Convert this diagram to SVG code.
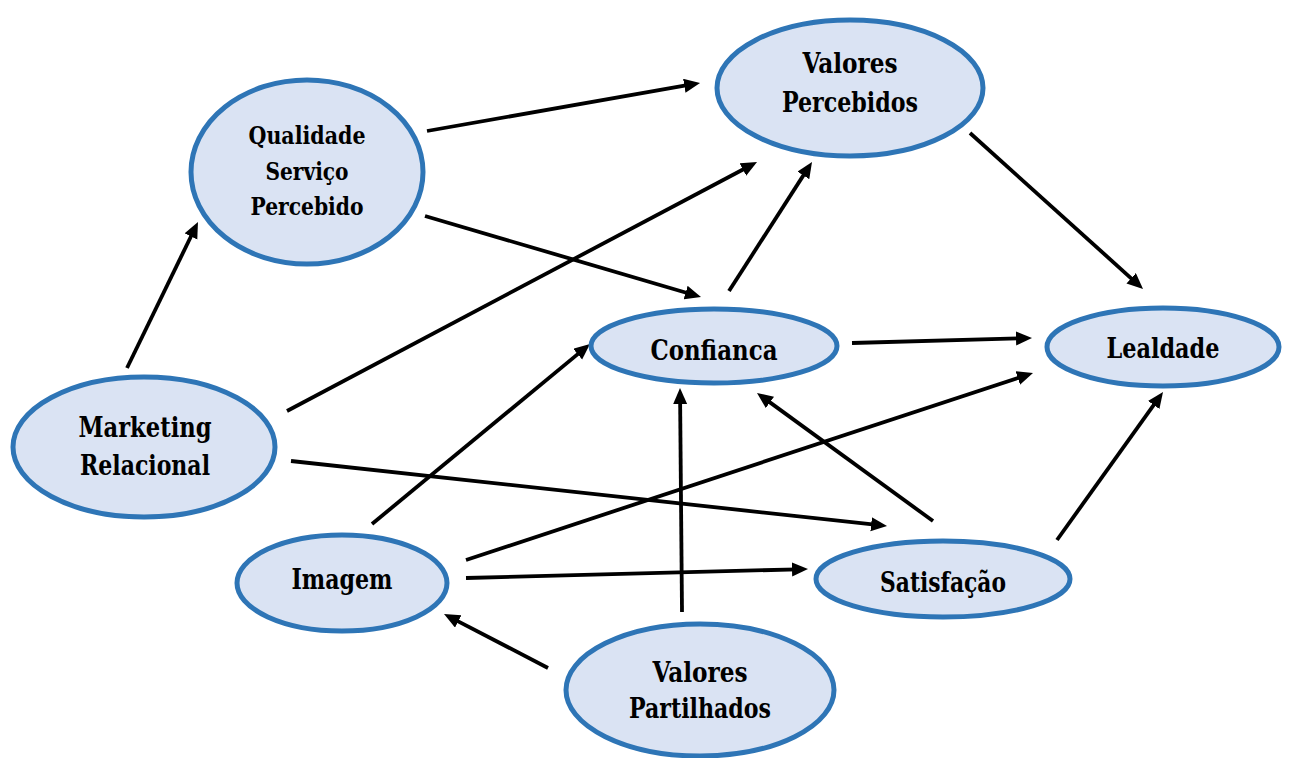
<svg xmlns="http://www.w3.org/2000/svg" width="1289" height="758" viewBox="0 0 1289 758">
  <style>
    .node { fill: #dae3f3; stroke: #2e75b6; stroke-width: 5; }
    .label { font-family: 'DejaVu Serif Condensed', 'DejaVu Serif', serif; font-weight: bold; font-size: 27px; fill: #000; text-anchor: middle; }
    .small { font-size: 25px; }
    .edge { stroke: #000; stroke-width: 3.8; fill: none; marker-end: url(#arrow); }
  </style>
  <defs>
    <marker id="arrow" markerUnits="userSpaceOnUse" markerWidth="17" markerHeight="15" refX="6" refY="7" orient="auto">
      <path d="M0,0 L16,7 L0,14 Z" fill="#000"/>
    </marker>
  </defs>
  <rect width="1289" height="758" fill="#fff"/>

  <!-- causal links between the constructs -->
  <g id="connectors">
    <line class="edge" x1="427" y1="131" x2="690.2" y2="84.7"/>
    <line class="edge" x1="425" y1="216" x2="691.4" y2="294.2"/>
    <line class="edge" x1="127" y1="368" x2="193.6" y2="231.0"/>
    <line class="edge" x1="287" y1="411" x2="748.2" y2="166.7"/>
    <line class="edge" x1="291" y1="461" x2="877.1" y2="524.9"/>
    <line class="edge" x1="729" y1="291" x2="806.6" y2="170.4"/>
    <line class="edge" x1="970" y1="133" x2="1135.6" y2="282.3"/>
    <line class="edge" x1="852" y1="343" x2="1022" y2="338.3"/>
    <line class="edge" x1="372" y1="524" x2="582.3" y2="350.4"/>
    <line class="edge" x1="466" y1="560" x2="1023.5" y2="376.1"/>
    <line class="edge" x1="466" y1="578" x2="798" y2="569.3"/>
    <line class="edge" x1="548" y1="668" x2="452.9" y2="618.6"/>
    <line class="edge" x1="682" y1="612" x2="680.1" y2="398"/>
    <line class="edge" x1="933" y1="521" x2="765.1" y2="398.9"/>
    <line class="edge" x1="1057" y1="540" x2="1157.2" y2="400.1"/>
  </g>

  <g id="qualidade">
    <ellipse class="node" cx="307" cy="172" rx="116" ry="92"/>
    <text class="label small" x="307" y="144" textLength="117" lengthAdjust="spacingAndGlyphs">Qualidade</text>
    <text class="label small" x="307" y="180" textLength="83" lengthAdjust="spacingAndGlyphs">Serviço</text>
    <text class="label small" x="307" y="215" textLength="113" lengthAdjust="spacingAndGlyphs">Percebido</text>
  </g>

  <g id="valores-percebidos">
    <ellipse class="node" cx="850" cy="88" rx="133" ry="68"/>
    <text class="label" x="850" y="73" textLength="95" lengthAdjust="spacingAndGlyphs">Valores</text>
    <text class="label" x="850" y="112" textLength="136" lengthAdjust="spacingAndGlyphs">Percebidos</text>
  </g>

  <g id="confianca">
    <ellipse class="node" cx="714" cy="346" rx="123" ry="37"/>
    <text class="label" x="714" y="360" textLength="127" lengthAdjust="spacingAndGlyphs">Confianca</text>
  </g>

  <g id="lealdade">
    <ellipse class="node" cx="1163" cy="347" rx="116" ry="39"/>
    <text class="label" x="1163" y="358" textLength="113" lengthAdjust="spacingAndGlyphs">Lealdade</text>
  </g>

  <g id="marketing">
    <ellipse class="node" cx="144" cy="447" rx="131" ry="70"/>
    <text class="label" x="145" y="437" textLength="133" lengthAdjust="spacingAndGlyphs">Marketing</text>
    <text class="label" x="145" y="475" textLength="130" lengthAdjust="spacingAndGlyphs">Relacional</text>
  </g>

  <g id="imagem">
    <ellipse class="node" cx="342" cy="583" rx="105" ry="48"/>
    <text class="label" x="342" y="589" textLength="101" lengthAdjust="spacingAndGlyphs">Imagem</text>
  </g>

  <g id="satisfacao">
    <ellipse class="node" cx="943" cy="579" rx="127" ry="38"/>
    <text class="label" x="943" y="592" textLength="126" lengthAdjust="spacingAndGlyphs">Satisfação</text>
  </g>

  <g id="valores-partilhados">
    <ellipse class="node" cx="700" cy="690" rx="134" ry="66"/>
    <text class="label" x="700" y="682" textLength="95" lengthAdjust="spacingAndGlyphs">Valores</text>
    <text class="label" x="700" y="718" textLength="142" lengthAdjust="spacingAndGlyphs">Partilhados</text>
  </g>
</svg>
